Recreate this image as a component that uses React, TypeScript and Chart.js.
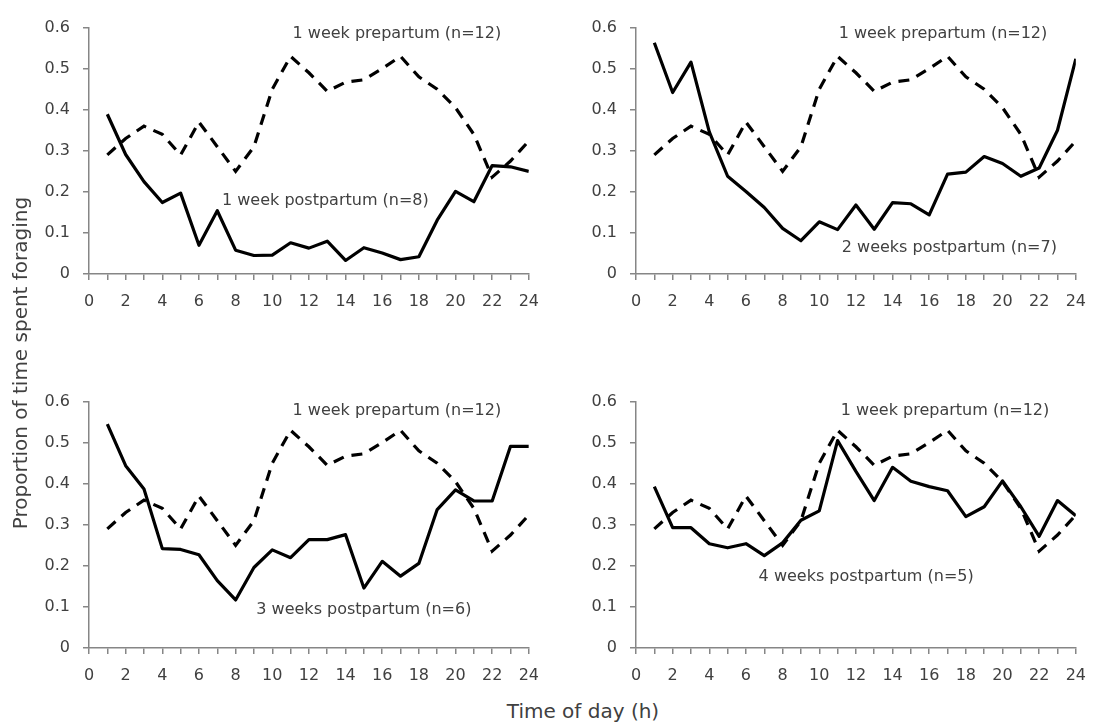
import React, { useEffect, useRef } from 'react';
import { Chart, registerables } from 'chart.js';

Chart.register(...registerables);

// ---- data ----
const hours = [1, 2, 3, 4, 5, 6, 7, 8, 9, 10, 11, 12, 13, 14, 15, 16, 17, 18, 19, 20, 21, 22, 23, 24];

const prepartum = [0.29, 0.33, 0.36, 0.34, 0.29, 0.37, 0.31, 0.25, 0.31, 0.45, 0.53, 0.49, 0.445, 0.467, 0.473, 0.5, 0.53, 0.48, 0.45, 0.405, 0.34, 0.236, 0.275, 0.324];
const postpartumWeek1 = [0.389, 0.291, 0.225, 0.174, 0.197, 0.07, 0.154, 0.058, 0.045, 0.046, 0.076, 0.063, 0.08, 0.033, 0.064, 0.051, 0.035, 0.042, 0.131, 0.201, 0.176, 0.264, 0.261, 0.25];
const postpartumWeek2 = [0.563, 0.442, 0.516, 0.346, 0.238, 0.201, 0.162, 0.111, 0.081, 0.127, 0.108, 0.168, 0.109, 0.174, 0.171, 0.144, 0.243, 0.248, 0.286, 0.269, 0.238, 0.258, 0.35, 0.524];
const postpartumWeek3 = [0.545, 0.444, 0.387, 0.242, 0.24, 0.227, 0.164, 0.117, 0.196, 0.239, 0.22, 0.264, 0.264, 0.276, 0.146, 0.211, 0.175, 0.206, 0.337, 0.385, 0.358, 0.358, 0.491, 0.491];
const postpartumWeek4 = [0.393, 0.293, 0.293, 0.254, 0.244, 0.254, 0.225, 0.256, 0.311, 0.334, 0.505, 0.43, 0.359, 0.44, 0.406, 0.393, 0.383, 0.32, 0.344, 0.407, 0.344, 0.272, 0.359, 0.322];

const xTickLabels = ['0', '', '2', '', '4', '', '6', '', '8', '', '10', '', '12', '', '14', '', '16', '', '18', '', '20', '', '22', '', '24'];
const yTickLabels = ['0', '0.1', '0.2', '0.3', '0.4', '0.5', '0.6'];

const prepartumLabel = '1 week prepartum (n=12)';
const postpartumLabels = [
  '1 week postpartum (n=8)',
  '2 weeks postpartum (n=7)',
  '3 weeks postpartum (n=6)',
  '4 weeks postpartum (n=5)',
];
const postpartumSeries = [postpartumWeek1, postpartumWeek2, postpartumWeek3, postpartumWeek4];

const xTitle = 'Time of day (h)';
const yTitle = 'Proportion of time spent foraging';

// ---- layout / style ----
const FONT = '"DejaVu Sans", "Liberation Sans", sans-serif';
const TEXT = '#404040';
const AXIS = '#868686';
const YW = 60; // y-scale width
const XH = 40; // x-scale height
const PT = 14; // top padding
const PR = 14; // right padding
const PLOT_W = 448;
const PLOT_H = 255;

const panels = [
  { left: 89, top: 19, pre: { x: 16.8, y: 0.584 }, post: { x: 12.9, y: 0.179 } },
  { left: 636, top: 19, pre: { x: 16.75, y: 0.584 }, post: { x: 17.1, y: 0.064 } },
  { left: 89, top: 393, pre: { x: 16.8, y: 0.577 }, post: { x: 15.0, y: 0.094 } },
  { left: 636, top: 393, pre: { x: 16.86, y: 0.577 }, post: { x: 12.56, y: 0.173 } },
];

const labelPlugin = {
  id: 'panelLabels',
  afterDatasetsDraw(chart: any, _args: any, opts: any) {
    const { ctx, scales } = chart;
    ctx.save();
    ctx.font = `16px ${FONT}`;
    ctx.fillStyle = TEXT;
    ctx.textAlign = 'center';
    ctx.textBaseline = 'middle';
    for (const it of opts.items || []) {
      ctx.fillText(it.text, scales.x.getPixelForValue(it.x), scales.y.getPixelForValue(it.y));
    }
    ctx.restore();
  },
};

function Panel({ idx }: { idx: number }) {
  const ref = useRef<HTMLCanvasElement | null>(null);
  const p = panels[idx];
  const W = YW + PLOT_W + PR;
  const H = PT + PLOT_H + XH;

  useEffect(() => {
    if (!ref.current) return;
    const post = postpartumSeries[idx];
    const chart = new Chart(ref.current, {
      type: 'line',
      data: {
        datasets: [
          {
            label: postpartumLabels[idx],
            data: hours.map((h, i) => ({ x: h, y: post[i] })),
            borderColor: '#000',
            borderWidth: 3.2,
            pointRadius: 0,
            tension: 0,
            borderJoinStyle: 'round',
            borderCapStyle: 'butt',
          },
          {
            label: prepartumLabel,
            data: hours.map((h, i) => ({ x: h, y: prepartum[i] })),
            borderColor: '#000',
            borderWidth: 3.2,
            borderDash: [11, 8],
            pointRadius: 0,
            tension: 0,
            borderJoinStyle: 'miter',
            borderCapStyle: 'butt',
          },
        ],
      },
      options: {
        animation: false,
        responsive: false,
        devicePixelRatio: 1,
        layout: { padding: { top: PT, right: PR, left: 0, bottom: 0 } },
        plugins: {
          legend: { display: false },
          tooltip: { enabled: false },
          panelLabels: {
            items: [
              { text: prepartumLabel, x: p.pre.x, y: p.pre.y },
              { text: postpartumLabels[idx], x: p.post.x, y: p.post.y },
            ],
          },
        } as any,
        scales: {
          x: {
            type: 'linear',
            min: 0,
            max: 24,
            afterFit: (s: any) => {
              s.height = XH;
            },
            border: { display: true, color: AXIS, width: 1.5 },
            grid: { drawOnChartArea: false, drawTicks: true, tickLength: 6, color: AXIS, lineWidth: 1.5 },
            ticks: {
              stepSize: 1,
              autoSkip: false,
              maxRotation: 0,
              minRotation: 0,
              padding: 12,
              color: TEXT,
              font: { family: FONT, size: 16 },
              callback: (_v: any, i: number) => xTickLabels[i],
            },
          },
          y: {
            type: 'linear',
            min: 0,
            max: 0.6,
            afterFit: (s: any) => {
              s.width = YW;
            },
            border: { display: true, color: AXIS, width: 1.5 },
            grid: { drawOnChartArea: false, drawTicks: true, tickLength: 6, color: AXIS, lineWidth: 1.5 },
            ticks: {
              stepSize: 0.1,
              padding: 13,
              color: TEXT,
              font: { family: FONT, size: 16 },
              callback: (_v: any, i: number) => yTickLabels[i],
            },
          },
        },
      },
      plugins: [labelPlugin],
    } as any);
    return () => chart.destroy();
  }, [idx]);

  return (
    <canvas
      ref={ref}
      width={W}
      height={H}
      style={{ position: 'absolute', left: p.left - YW, top: p.top - PT, width: W, height: H }}
    />
  );
}

export default function App() {
  return (
    <div style={{ position: 'absolute', left: 0, top: 0, width: 1097, height: 725, background: '#fff', overflow: 'hidden' }}>
      {panels.map((_, i) => (
        <Panel key={i} idx={i} />
      ))}
      <div
        style={{
          position: 'absolute',
          left: 20 - 200,
          top: 363 - 14,
          width: 400,
          height: 28,
          lineHeight: '28px',
          textAlign: 'center',
          transform: 'rotate(-90deg)',
          fontFamily: FONT,
          fontSize: 20,
          color: TEXT,
          whiteSpace: 'nowrap',
        }}
      >
        {yTitle}
      </div>
      <div
        style={{
          position: 'absolute',
          left: 583 - 200,
          top: 711 - 14,
          width: 400,
          height: 28,
          lineHeight: '28px',
          textAlign: 'center',
          fontFamily: FONT,
          fontSize: 20,
          color: TEXT,
          whiteSpace: 'nowrap',
        }}
      >
        {xTitle}
      </div>
    </div>
  );
}
